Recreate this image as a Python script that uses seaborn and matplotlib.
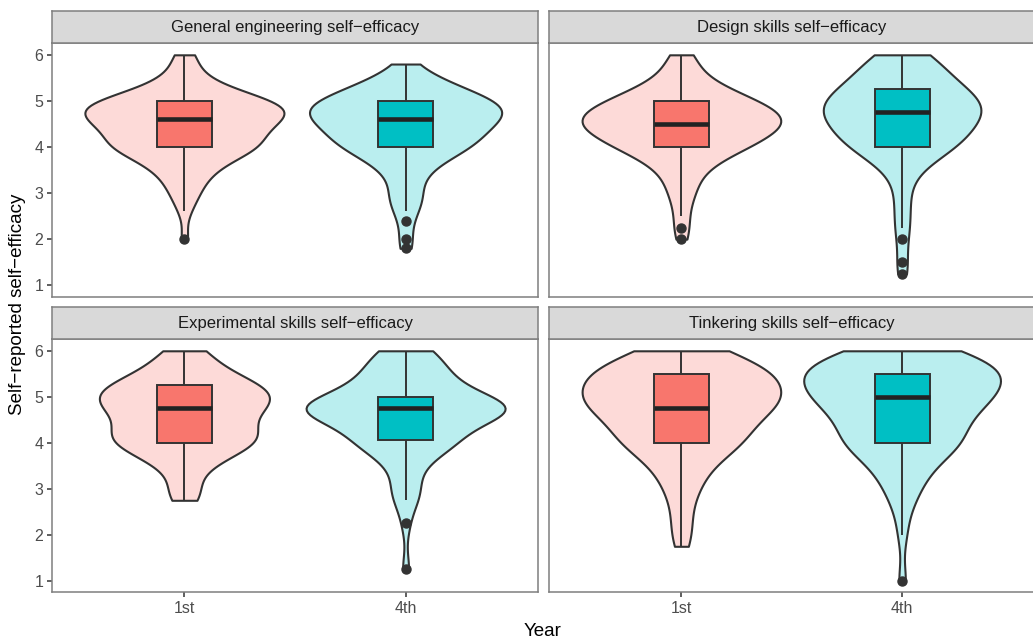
import numpy as np
import pandas as pd
import matplotlib
matplotlib.use("Agg")
import matplotlib.pyplot as plt
import seaborn as sns

gen_1st_vals = [2.0, 2.6, 2.8, 3.0, 3.2, 3.4, 3.6, 3.8, 4.0, 4.2, 4.4, 4.6, 4.8, 5.0, 5.2, 5.4, 5.6, 5.8, 6.0]
gen_1st_n = [1, 1, 1, 2, 2, 3, 4, 6, 10, 8, 9, 11, 13, 11, 6, 3, 2, 1, 2]
gen_4th_vals = [1.8, 2.0, 2.4, 2.6, 2.8, 3.0, 3.2, 3.4, 3.6, 3.8, 4.0, 4.2, 4.4, 4.6, 4.8, 5.0, 5.2, 5.4, 5.6, 5.8]
gen_4th_n = [1, 1, 1, 1, 2, 2, 1, 2, 3, 4, 8, 7, 8, 9, 12, 9, 7, 4, 2, 1]

des_1st_vals = [2.0, 2.25, 2.5, 2.75, 3.0, 3.25, 3.5, 3.75, 4.0, 4.25, 4.5, 4.75, 5.0, 5.25, 5.5, 5.75, 6.0]
des_1st_n = [1, 1, 1, 1, 2, 2, 3, 5, 9, 11, 14, 13, 10, 6, 3, 2, 2]
des_4th_vals = [1.25, 1.5, 2.0, 2.25, 2.5, 2.75, 3.0, 3.25, 3.5, 3.75, 4.0, 4.25, 4.5, 4.75, 5.0, 5.25, 5.5, 5.75, 6.0]
des_4th_n = [1, 1, 1, 1, 1, 1, 1, 1, 2, 4, 8, 8, 9, 11, 11, 8, 6, 5, 5]

exp_1st_vals = [2.75, 3.0, 3.25, 3.5, 3.75, 4.0, 4.25, 4.5, 4.75, 5.0, 5.25, 5.5, 5.75, 6.0]
exp_1st_n = [2, 2, 1, 3, 5, 9, 8, 6, 9, 10, 9, 5, 3, 3]
exp_4th_vals = [1.25, 2.25, 2.75, 3.0, 3.25, 3.5, 3.75, 4.0, 4.25, 4.5, 4.75, 5.0, 5.25, 5.5, 5.75, 6.0]
exp_4th_n = [1, 1, 2, 2, 1, 2, 3, 8, 5, 7, 20, 7, 5, 6, 3, 5]

tin_1st_vals = [1.75, 2.0, 2.25, 2.5, 2.75, 3.0, 3.25, 3.5, 3.75, 4.0, 4.25, 4.5, 4.75, 5.0, 5.25, 5.5, 5.75, 6.0]
tin_1st_n = [1, 1, 1, 1, 1, 2, 2, 3, 4, 7, 6, 7, 9, 11, 8, 11, 6, 6]
tin_4th_vals = [1.0, 2.0, 2.5, 2.75, 3.0, 3.25, 3.5, 3.75, 4.0, 4.25, 4.5, 4.75, 5.0, 5.25, 5.5, 5.75, 6.0]
tin_4th_n = [1, 1, 1, 1, 2, 2, 3, 4, 7, 5, 6, 7, 9, 9, 10, 9, 7]

panels = ["General engineering self\u2212efficacy", "Design skills self\u2212efficacy",
          "Experimental skills self\u2212efficacy", "Tinkering skills self\u2212efficacy"]
years = ["1st", "4th"]

groups = {
    (panels[0], "1st"): (gen_1st_vals, gen_1st_n),
    (panels[0], "4th"): (gen_4th_vals, gen_4th_n),
    (panels[1], "1st"): (des_1st_vals, des_1st_n),
    (panels[1], "4th"): (des_4th_vals, des_4th_n),
    (panels[2], "1st"): (exp_1st_vals, exp_1st_n),
    (panels[2], "4th"): (exp_4th_vals, exp_4th_n),
    (panels[3], "1st"): (tin_1st_vals, tin_1st_n),
    (panels[3], "4th"): (tin_4th_vals, tin_4th_n),
}

rows = []
for (scale, yr), (vals, cnt) in groups.items():
    for v in np.repeat(vals, cnt):
        rows.append({"Scale": scale, "Year": yr, "Score": v})
df = pd.DataFrame(rows)

# colours (ggplot defaults, violins with alpha)
box_pal = {"1st": "#F8766D", "4th": "#00BFC4"}
vio_pal = {"1st": "#FDDAD8", "4th": "#BAEEEF"}
ink = "#333333"
border = "#7F7F7F"

sns.set_style("white")
plt.rcParams["font.family"] = ["Liberation Sans", "DejaVu Sans"]

W, H = 1033, 641
fig = plt.figure(figsize=(W / 100, H / 100), dpi=100)

# panel boxes in pixels: (left, top, right, bottom), strip sits on top
boxes = [(51.7, 43.3, 538.3, 296.7), (549, 43.3, 1034.5, 296.7),
         (51.7, 339.3, 538.3, 592.3), (549, 339.3, 1034.5, 592.3)]
strip_h = 32

for i, (scale, (l, t, r, b)) in enumerate(zip(panels, boxes)):
    ax = fig.add_axes([l / W, 1 - b / H, (r - l) / W, (b - t) / H])
    d = df[df["Scale"] == scale]

    # area scaling shared by both violins of a panel, like ggplot
    sns.violinplot(data=d, x="Year", y="Score", hue="Year", order=years, hue_order=years,
                   palette=vio_pal, saturation=1, cut=0, inner=None, density_norm="area",
                   common_norm=True, width=0.9, bw_adjust=0.85, linewidth=1.5, linecolor=ink,
                   legend=False, ax=ax)
    sns.boxplot(data=d, x="Year", y="Score", hue="Year", order=years, hue_order=years,
                palette=box_pal, saturation=1, width=0.25, showcaps=False,
                linewidth=1.4, linecolor=ink, legend=False,
                flierprops=dict(marker="o", markerfacecolor=ink, markeredgecolor=ink, markersize=6.5),
                medianprops=dict(linewidth=3.3, color="#222222"),
                ax=ax)

    ax.set_xlim(-0.6, 1.6)
    ax.set_ylim(0.75, 6.25)
    ax.set_yticks([1, 2, 3, 4, 5, 6])
    ax.set_xlabel("")
    ax.set_ylabel("")
    for s in ax.spines.values():
        s.set_color(border)
        s.set_linewidth(1.1)
    ax.tick_params(axis="both", colors="#333333", labelcolor="#4D4D4D", labelsize=11.5,
                   length=3.5, width=1.1, direction="out")
    if i < 2:
        ax.tick_params(axis="x", bottom=False, labelbottom=False)
    else:
        ax.tick_params(axis="x", bottom=True, pad=2.5)
    if i % 2 == 1:
        ax.tick_params(axis="y", left=False, labelleft=False)
    else:
        ax.tick_params(axis="y", left=True, pad=2.5)

    # facet strip
    sax = fig.add_axes([l / W, 1 - t / H, (r - l) / W, strip_h / H])
    sax.set_facecolor("#D9D9D9")
    sax.set_xticks([])
    sax.set_yticks([])
    for s in sax.spines.values():
        s.set_color(border)
        s.set_linewidth(1.1)
    sax.text(0.5, 0.5, scale, ha="center", va="center", fontsize=12, color="#1A1A1A",
             transform=sax.transAxes)

fig.text(18 / W, 1 - 304 / H, "Self\u2212reported self\u2212efficacy", rotation=90,
         ha="center", va="center", fontsize=13.5, color="black")
fig.text(543 / W, 1 - 631 / H, "Year", ha="center", va="center", fontsize=13.5, color="black")

fig.savefig("out.png", dpi=100, facecolor="white")
